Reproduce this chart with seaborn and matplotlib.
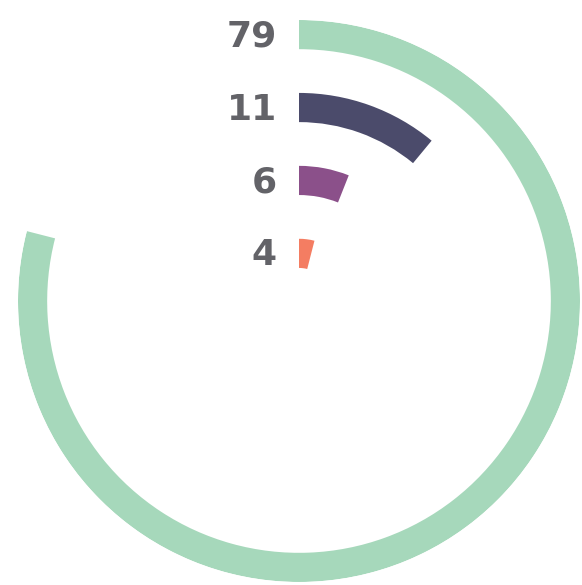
import numpy as np
import matplotlib
matplotlib.use("Agg")
import matplotlib.pyplot as plt
import seaborn as sns

labels = ["79", "11", "6", "4"]
values = [79, 11, 6, 4]
colors = ["#a6d8bb", "#4b4b6b", "#8b508a", "#f47d62"]
max_value = 100

sns.set_style("white")
plt.rcParams["font.family"] = ["DejaVu Sans"]

fig = plt.figure(figsize=(5.82, 5.85), dpi=100)
R = 281
cx, cy = 299, 301
ax = fig.add_axes([(cx - R) / 582, (585 - cy - R) / 585, 2 * R / 582, 2 * R / 585], projection="polar")
ax.set_theta_zero_location("N")
ax.set_theta_direction(-1)

n = len(values)
for i, (lab, v, c) in enumerate(zip(labels, values, colors)):
    k = n - 1 - i
    ax.barh(k, v / max_value * 2 * np.pi, left=0, height=0.4, color=c, edgecolor="none")
    ax.annotate(lab, xy=(0, k), xytext=(-22, -2), textcoords="offset pixels",
                ha="right", va="center", fontsize=26, fontweight="bold", color="#636368")

ax.set_ylim(-0.653, 3.2)
ax.grid(False)
ax.set_xticks([])
ax.set_yticks([])
ax.spines["polar"].set_visible(False)
ax.set_facecolor("none")

fig.savefig("out.png", dpi=100)
